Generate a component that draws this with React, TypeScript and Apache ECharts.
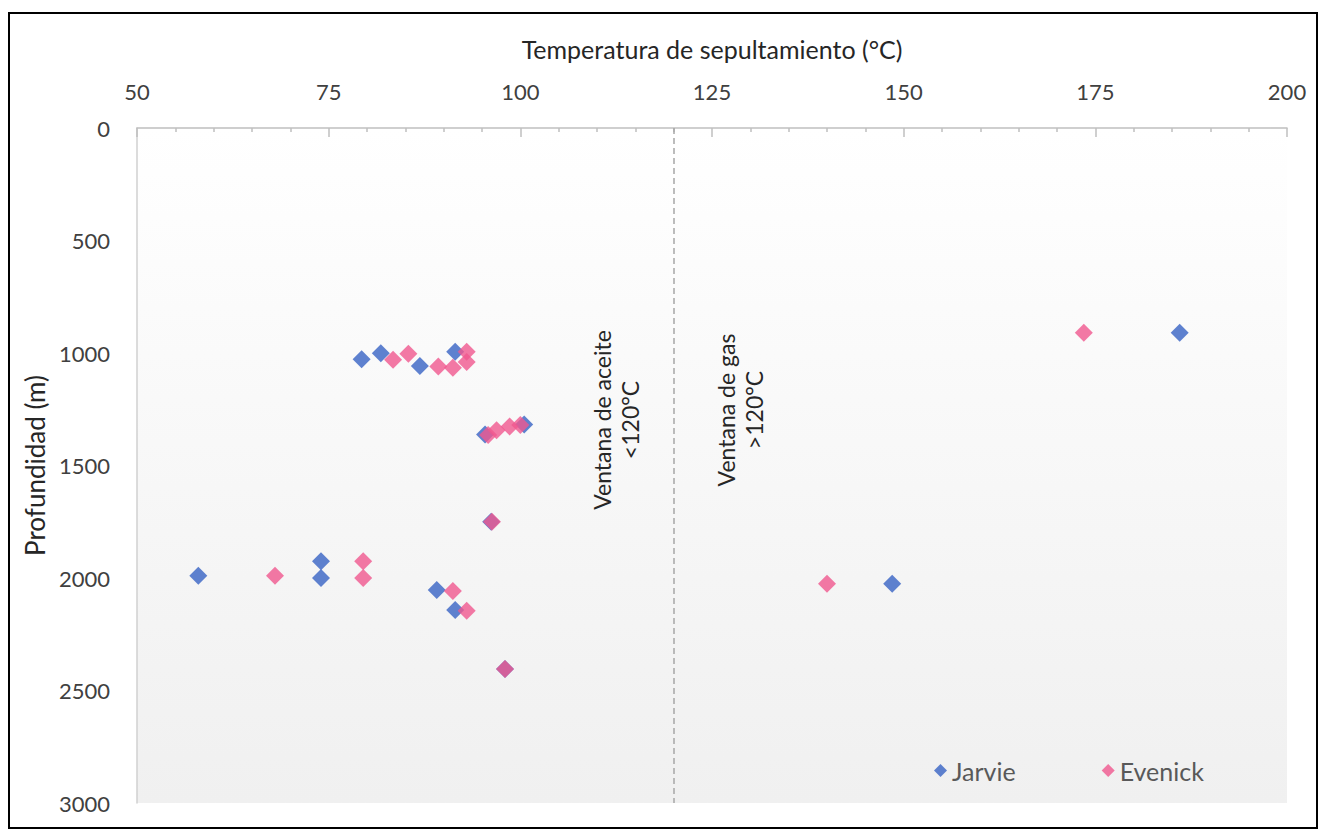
import React, { useEffect, useRef } from "react";
import * as echarts from "echarts";

const xTicks = [50, 75, 100, 125, 150, 175, 200];
const yTicks = [0, 500, 1000, 1500, 2000, 2500, 3000];
const windowLimit = 120;

const jarvie: [number, number][] = [
  [58, 1990], [74, 1925], [74, 2000], [79.3, 1028], [81.8, 1001], [86.9, 1058],
  [91.5, 994], [95.4, 1362], [100.5, 1318], [96.2, 1750], [89.1, 2053],
  [91.5, 2142], [98, 2404], [148.5, 2025], [186, 910],
];
const evenick: [number, number][] = [
  [68, 1990], [79.5, 1925], [79.5, 2000], [83.4, 1030], [85.4, 1003], [89.3, 1060],
  [91.2, 1066], [93, 994], [93, 1040], [95.8, 1364], [96.9, 1343], [98.6, 1327],
  [100, 1320], [96.3, 1750], [91.2, 2058], [93, 2145], [98, 2404], [140, 2025],
  [173.5, 910],
];

const FONT = "Lato, 'Open Sans', sans-serif";

export default function App() {
  const ref = useRef<HTMLDivElement>(null);
  useEffect(() => {
    if (!ref.current) return;
    const chart = echarts.init(ref.current, null, { renderer: "svg" });
    chart.setOption({
      animation: false,
      backgroundColor: "#ffffff",
      textStyle: { fontFamily: FONT },
      grid: {
        left: 137,
        top: 128,
        right: 38,
        bottom: 33,
        show: true,
        borderWidth: 0,
        backgroundColor: {
          type: "linear", x: 0, y: 0, x2: 0, y2: 1,
          colorStops: [
            { offset: 0, color: "#ffffff" },
            { offset: 1, color: "#f0f0f0" },
          ],
        },
      },
      legend: {
        left: 929,
        top: 753,
        itemGap: 86,
        itemWidth: 13,
        itemHeight: 13,
        icon: "diamond",
        textStyle: { fontSize: 25, color: "#595959", fontFamily: FONT },
        data: ["Jarvie", "Evenick"],
      },
      xAxis: {
        type: "value",
        position: "top",
        min: xTicks[0],
        max: xTicks[xTicks.length - 1],
        interval: 25,
        name: "Temperatura de sepultamiento (°C)",
        nameLocation: "middle",
        nameGap: 67,
        nameTextStyle: { fontSize: 25, color: "#262626", fontFamily: FONT },
        axisLine: { show: true, lineStyle: { color: "#bfbfbf", width: 1.5 } },
        axisTick: { show: true, inside: true, length: 9, lineStyle: { color: "#bfbfbf", width: 1.5 } },
        minorTick: { show: true, splitNumber: 5, length: 4, lineStyle: { color: "#bfbfbf", width: 1.5 } },
        axisLabel: { fontSize: 22, color: "#404040", margin: 26, fontFamily: FONT },
        splitLine: { show: false },
      },
      yAxis: {
        type: "value",
        inverse: true,
        min: yTicks[0],
        max: yTicks[yTicks.length - 1],
        interval: 500,
        name: "Profundidad (m)",
        nameLocation: "middle",
        nameGap: 88,
        nameTextStyle: { fontSize: 26, color: "#262626", fontFamily: FONT },
        axisLine: { show: true, lineStyle: { color: "#d0d0d0", width: 1.5 } },
        axisTick: { show: false },
        axisLabel: {
          fontSize: 22,
          color: "#404040",
          margin: 27,
          fontFamily: FONT,
          formatter: (v: number) => String(v),
        },
        splitLine: { show: false },
      },
      series: [
        {
          name: "Jarvie",
          type: "scatter",
          symbol: "diamond",
          symbolSize: 18,
          itemStyle: { color: "#3763c4" },
          data: jarvie,
          markLine: {
            silent: true,
            symbol: "none",
            label: { show: false },
            lineStyle: { color: "#a6a6a6", type: [6, 4], width: 1.5 },
            data: [{ xAxis: windowLimit }],
          },
        },
        {
          name: "Evenick",
          type: "scatter",
          symbol: "diamond",
          symbolSize: 18,
          itemStyle: { color: "#f0588e" },
          data: evenick,
        },
      ],
      graphic: [
        {
          type: "rect",
          shape: { x: 9, y: 13, width: 1308, height: 815 },
          style: { fill: "none", stroke: "#000000", lineWidth: 2 },
          silent: true,
        },
        {
          type: "text",
          x: 616,
          y: 420,
          rotation: Math.PI / 2,
          style: {
            text: "Ventana de aceite\n<120°C",
            fontSize: 23,
            lineHeight: 28,
            fill: "#262626",
            fontFamily: FONT,
            align: "center",
            verticalAlign: "middle",
          },
        },
        {
          type: "text",
          x: 740,
          y: 410,
          rotation: Math.PI / 2,
          style: {
            text: "Ventana de gas\n>120°C",
            fontSize: 23,
            lineHeight: 28,
            fill: "#262626",
            fontFamily: FONT,
            align: "center",
            verticalAlign: "middle",
          },
        },
      ],
    });
    return () => chart.dispose();
  }, []);
  return (
    <div
      ref={ref}
      style={{ position: "fixed", left: 0, top: 0, width: 1325, height: 836 }}
    />
  );
}
